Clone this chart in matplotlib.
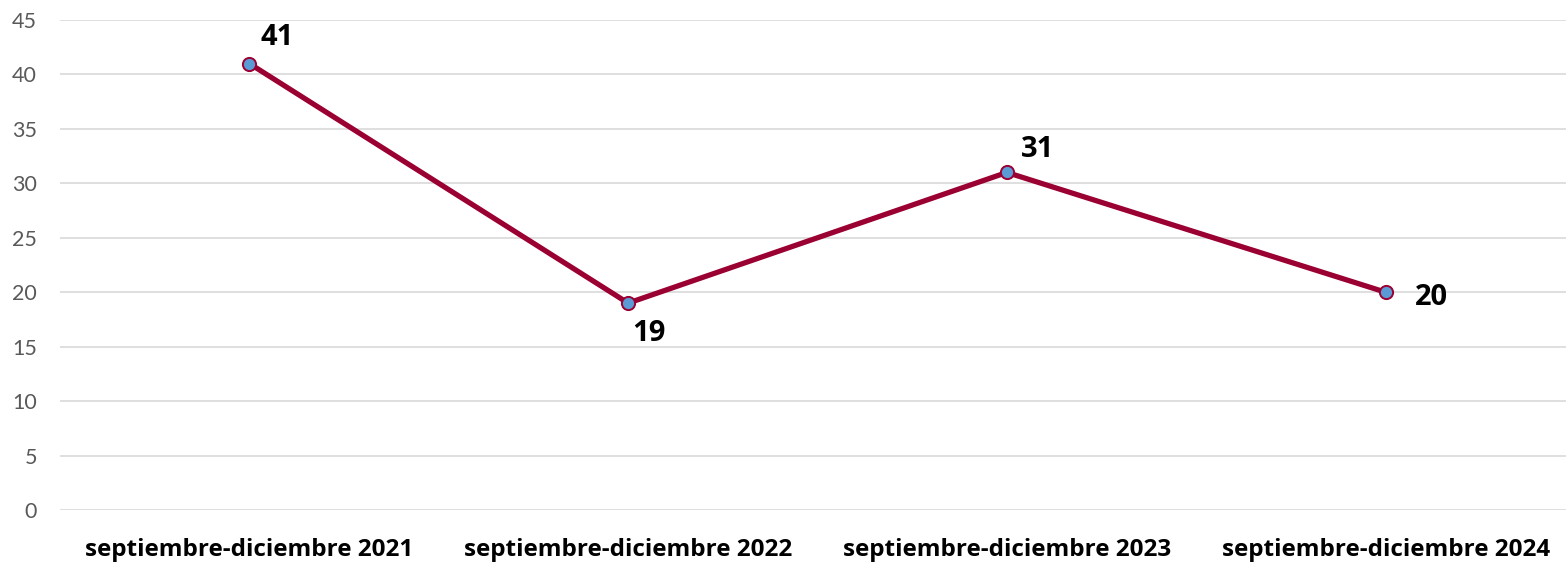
import matplotlib
matplotlib.use('Agg')
import matplotlib.pyplot as plt

categories = ['septiembre-diciembre 2021', 'septiembre-diciembre 2022',
              'septiembre-diciembre 2023', 'septiembre-diciembre 2024']
values = [41, 19, 31, 20]
# label offsets in pixels (dx, dy), dy positive = up
label_offsets = [(28, 26), (21, -30), (31, 23), (46, -5)]

plt.rcParams['font.family'] = ['Lato', 'DejaVu Sans']
bold_font = ['Open Sans', 'DejaVu Sans']

fig = plt.figure(figsize=(15.66, 5.63), dpi=100)
ax = fig.add_axes([60 / 1566, 53 / 563, 1515 / 1566, 490 / 563])

x = list(range(len(categories)))
ax.plot(x, values, color='#9B0032', linewidth=3.8, marker='o', markersize=9.5,
        markerfacecolor='#5B9BD5', markeredgecolor='#9B0032', markeredgewidth=1.4,
        zorder=3, clip_on=False)

for xi, v, (dx, dy) in zip(x, values, label_offsets):
    ax.annotate(str(v), (xi, v), xytext=(dx * 0.72, dy * 0.72), textcoords='offset points',
                ha='center', va='center', fontsize=21, fontweight='bold', color='black',
                family=bold_font)

ax.set_xlim(-0.5, 3.5)
ax.set_ylim(0, 45)
ax.set_yticks(range(0, 46, 5))
ax.set_xticks(x)
ax.set_xticklabels(categories, fontsize=17.5, fontweight='bold', color='black',
                   family=bold_font)
ax.tick_params(axis='y', labelsize=15.5, labelcolor='#595959', length=0, pad=16.5)
ax.tick_params(axis='x', length=0, pad=20)
ax.grid(axis='y', color='#D9D9D9', linewidth=1.2)
ax.set_axisbelow(True)
for s in ax.spines.values():
    s.set_visible(False)

fig.savefig('out.png', dpi=100)
